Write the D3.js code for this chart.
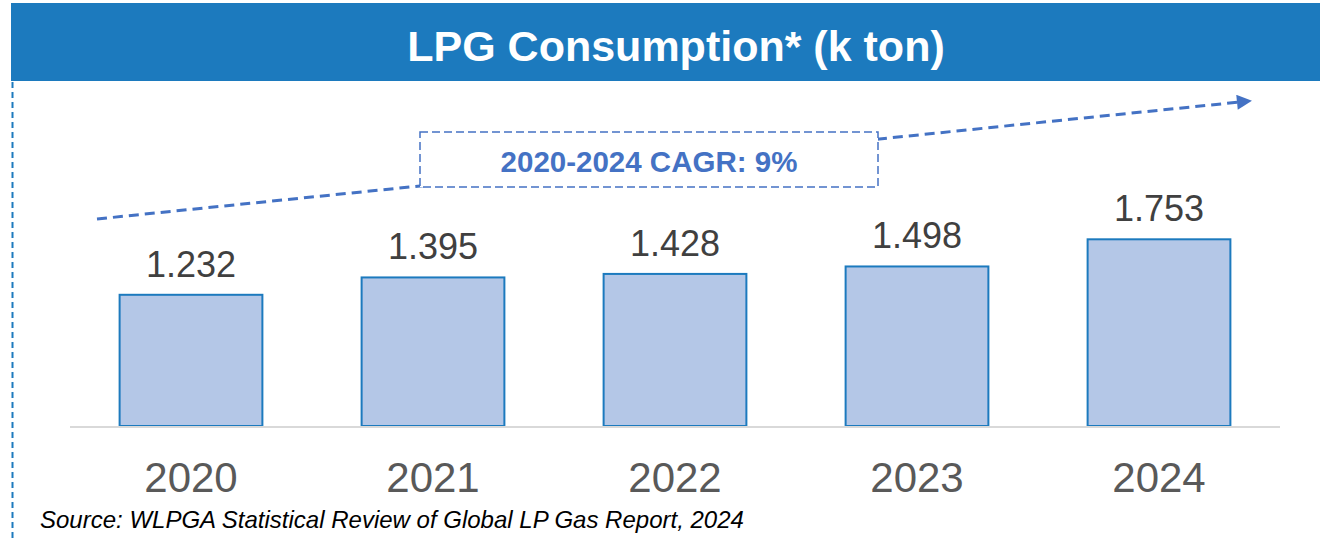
<!DOCTYPE html>
<html>
<head>
<meta charset="utf-8">
<script src="https://cdn.jsdelivr.net/npm/d3@7"></script>
<style>
  body { margin: 0; background: #fff; }
  svg { display: block; font-family: "Liberation Sans", Arial, sans-serif; }
</style>
</head>
<body>
<div id="chart"></div>
<script>
const years = ["2020", "2021", "2022", "2023", "2024"];
const consumption = [1.232, 1.395, 1.428, 1.498, 1.753];
const valueLabels = ["1.232", "1.395", "1.428", "1.498", "1.753"];
const title = "LPG Consumption* (k ton)";
const cagrLabel = "2020-2024 CAGR: 9%";
const source = "Source: WLPGA Statistical Review of Global LP Gas Report, 2024";

const width = 1320, height = 540;
const baseY = 426;

const svg = d3.select("#chart")
    .append("svg")
    .attr("width", width)
    .attr("height", height);

const defs = svg.append("defs");
defs.append("marker")
    .attr("id", "arrow")
    .attr("viewBox", "0 0 10 10")
    .attr("refX", 2)
    .attr("refY", 5)
    .attr("markerWidth", 6)
    .attr("markerHeight", 5)
    .attr("markerUnits", "strokeWidth")
    .attr("orient", "auto")
    .append("path")
    .attr("d", "M0,0 L10,5 L0,10 Z")
    .attr("fill", "#4472C4");

// header band
svg.append("rect")
    .attr("x", 11).attr("y", 3)
    .attr("width", width - 11).attr("height", 78)
    .attr("fill", "#1C7ABE");

svg.append("text")
    .attr("x", 676).attr("y", 61)
    .attr("text-anchor", "middle")
    .attr("fill", "#fff")
    .attr("font-size", 43)
    .attr("font-weight", "bold")
    .text(title);

// left dashed border
svg.append("line")
    .attr("x1", 12.5).attr("x2", 12.5)
    .attr("y1", 72).attr("y2", height)
    .attr("stroke", "#1C7ABE")
    .attr("stroke-width", 2)
    .attr("stroke-dasharray", "6,4");

const x = d3.scaleBand()
    .domain(years)
    .range([70, 1280])
    .paddingInner(0.41)
    .paddingOuter(0.205);

const y = d3.scaleLinear()
    .domain([0, 4])
    .range([baseY, 0]);

// bars
svg.selectAll(".bar")
    .data(years)
    .enter()
    .append("rect")
    .attr("class", "bar")
    .attr("x", d => x(d))
    .attr("y", (d, i) => y(consumption[i]))
    .attr("width", x.bandwidth())
    .attr("height", (d, i) => baseY - y(consumption[i]))
    .attr("fill", "#B4C7E7")
    .attr("stroke", "#1C7ABE")
    .attr("stroke-width", 2);

// baseline
svg.append("line")
    .attr("x1", 70).attr("x2", 1280)
    .attr("y1", baseY + 1).attr("y2", baseY + 1)
    .attr("stroke", "#D9D9D9")
    .attr("stroke-width", 2);

// value labels
svg.selectAll(".val")
    .data(years)
    .enter()
    .append("text")
    .attr("class", "val")
    .attr("x", d => x(d) + x.bandwidth() / 2)
    .attr("y", (d, i) => y(consumption[i]) - 18)
    .attr("text-anchor", "middle")
    .attr("fill", "#404040")
    .attr("font-size", 36)
    .text((d, i) => valueLabels[i]);

// year axis
const xAxis = svg.append("g")
    .attr("transform", `translate(0,${baseY})`)
    .call(d3.axisBottom(x).tickSize(0).tickPadding(36));
xAxis.select(".domain").remove();
xAxis.selectAll("text")
    .attr("fill", "#595959")
    .attr("font-size", 42)
    .attr("font-family", "Liberation Sans, Arial, sans-serif");

// CAGR trend arrow
svg.append("line")
    .attr("x1", 97).attr("y1", 219)
    .attr("x2", 1240).attr("y2", 102)
    .attr("stroke", "#4472C4")
    .attr("stroke-width", 3)
    .attr("stroke-dasharray", "10,6")
    .attr("marker-end", "url(#arrow)");

svg.append("rect")
    .attr("x", 420).attr("y", 132)
    .attr("width", 458).attr("height", 55)
    .attr("fill", "#fff")
    .attr("stroke", "#4472C4")
    .attr("stroke-width", 1.5)
    .attr("stroke-dasharray", "8,4");

svg.append("text")
    .attr("x", 649).attr("y", 172)
    .attr("text-anchor", "middle")
    .attr("fill", "#4472C4")
    .attr("font-size", 29.5)
    .attr("font-weight", "bold")
    .text(cagrLabel);

// source
svg.append("text")
    .attr("x", 40).attr("y", 528)
    .attr("fill", "#000")
    .attr("font-size", 24)
    .attr("font-style", "italic")
    .text(source);
</script>
</body>
</html>
